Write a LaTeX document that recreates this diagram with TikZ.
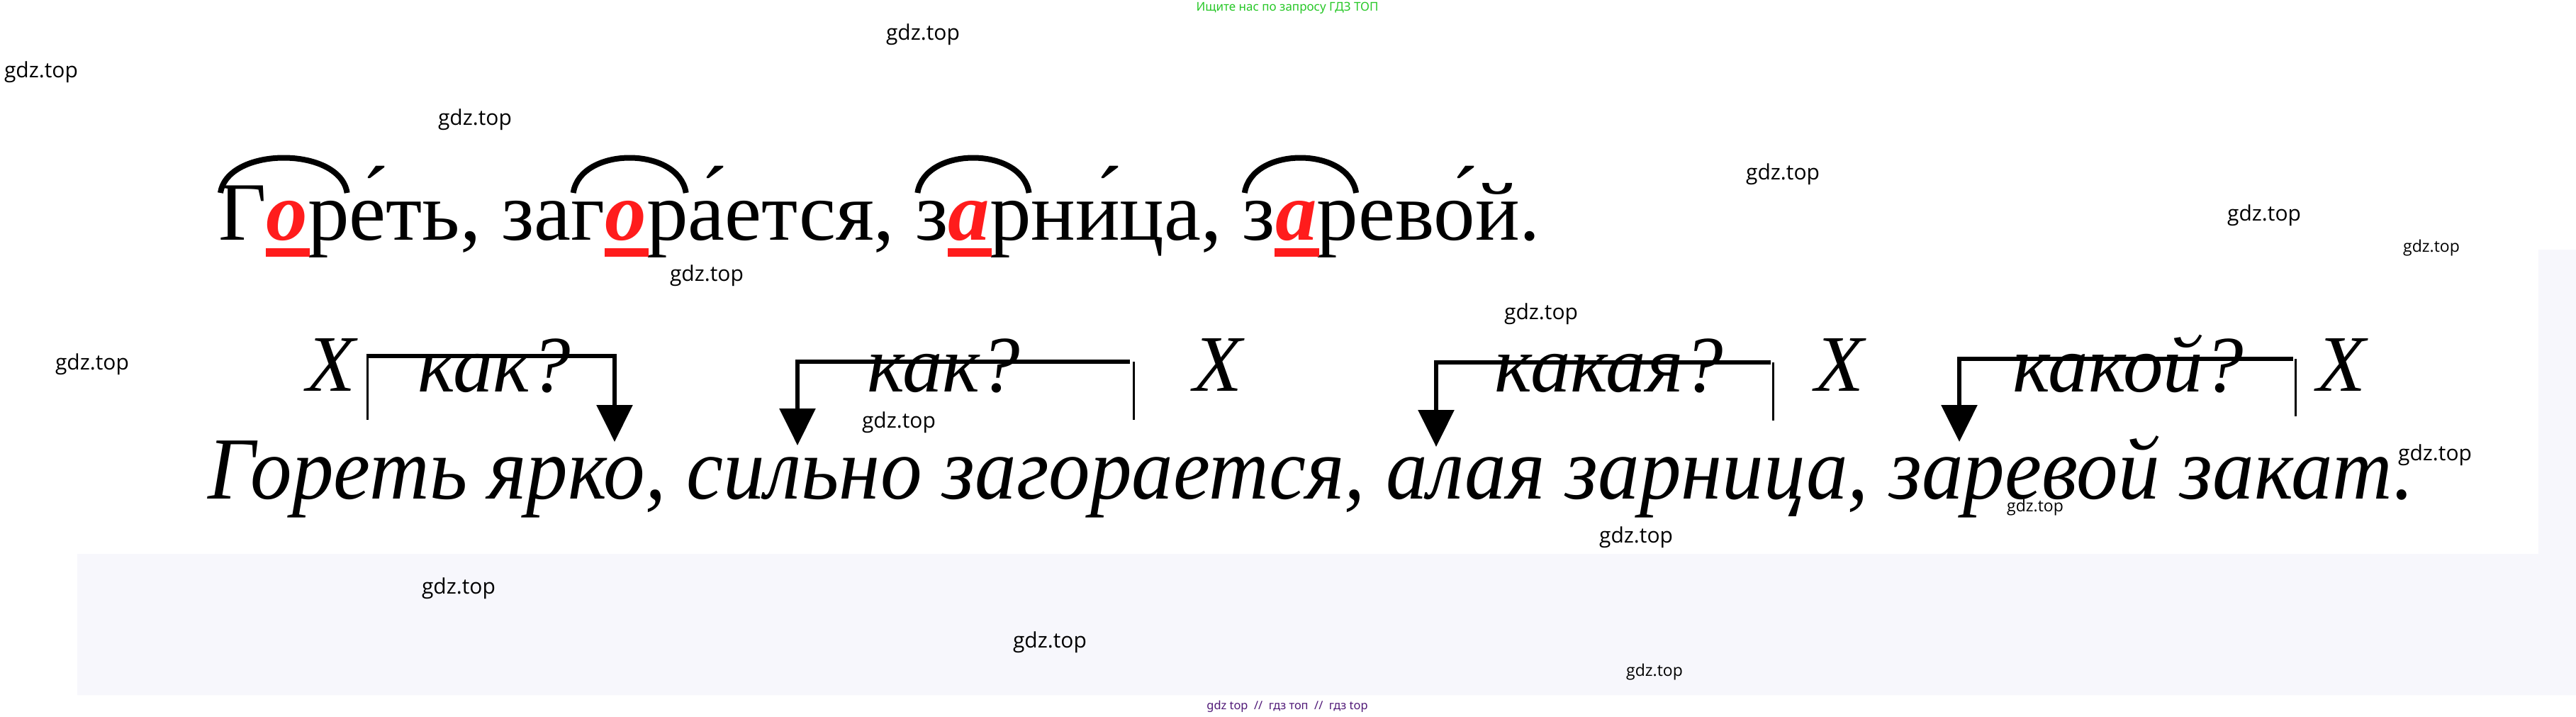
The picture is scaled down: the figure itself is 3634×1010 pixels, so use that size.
\documentclass[tikz,border=0pt]{standalone}
\usepackage{fontspec}
\setmainfont{Liberation Serif}
\newfontfamily\condit[FakeStretch=0.937]{Liberation Serif Italic}
\newfontfamily\wmfont{Open Sans}
\newfontfamily\gfont{Noto Sans}
\usetikzlibrary{arrows.meta,calc}
\definecolor{bgg}{RGB}{247,247,252}
\definecolor{rl}{RGB}{255,28,28}
\definecolor{grn}{RGB}{40,200,40}
\definecolor{pur}{RGB}{80,25,120}
\tikzset{
  w1/.style={inner sep=0pt,outer sep=0pt,anchor=base west,font=\fontsize{117}{122}\selectfont},
  red1/.style={w1,text=rl,font=\fontsize{117}{122}\selectfont\bfseries\itshape},
  rootarc/.style={line width=8pt},
  uline/.style={fill=rl},
  qtext/.style={inner sep=0pt,anchor=base,font=\fontsize{113}{118}\selectfont\itshape},
  thinln/.style={line width=3pt},
  arrln/.style={line width=6pt,line join=miter,-{Triangle[length=52pt,width=50pt]}},
  wm/.style={inner sep=0pt,font=\wmfont\fontsize{30}{33}\selectfont},
  wms/.style={inner sep=0pt,font=\wmfont\fontsize{23}{26}\selectfont},
}
\begin{document}
\begin{tikzpicture}[x=1pt,y=-1pt]
\useasboundingbox (0,0) rectangle (3634,1010);
\fill[white] (0,0) rectangle (3634,1010);
\fill[bgg] (109,781) -- (3581,781) -- (3581,352) -- (3634,352) -- (3634,980) -- (109,980) -- cycle;

% line 1
\node[w1] (p1) at (308,338) {Г};
\node[red1] (r1) at (p1.base east) {о};
\node[w1] (p3) at (r1.base east) {р};
\node[w1] (p4) at (p3.base east) {е́ть, за};
\node[w1] (p5) at (p4.base east) {г};
\node[red1] (r2) at (p5.base east) {о};
\node[w1] (p7) at (r2.base east) {р};
\node[w1] (p8) at (p7.base east) {а́ется,\ \null};
\node[w1] (p9) at (p8.base east) {з};
\node[red1] (r3) at (p9.base east) {а};
\node[w1] (p11) at (r3.base east) {р};
\node[w1] (p12) at (p11.base east) {ни́ца,\ \null};
\node[w1] (p13) at (p12.base east) {з};
\node[red1] (r4) at (p13.base east) {а};
\node[w1] (p15) at (r4.base east) {р};
\node[w1] (p16) at (p15.base east) {ево́й.};

\foreach \a/\b in {p1/p3,p5/p7,p9/p11,p13/p15}{
  \draw[rootarc] ($(\a.base west)+(3,-66)$) .. controls +(10,-66) and +(-10,-66) .. ($(\b.base east)+(-3,-66)$);
}
\foreach \r in {r1,r2,r3,r4}{
  \fill[uline] ($(\r.base west)+(-1,12)$) rectangle ($(\r.base east)+(3,24)$);
}

% line 2
\node[inner sep=0pt,anchor=base west,font=\condit\fontsize{125}{130}\selectfont] (l2) at (293,703) {Гореть ярко, сильно загорается, алая зарница, заревой закат.};

% schema
\node[qtext] (x1) at (467,551) {X};
\node[qtext] (q1) at (697,552) {как?};
\node[qtext] (q2) at (1331,552) {как?};
\node[qtext] (x2) at (1718,551) {X};
\node[qtext] (q3) at (2270,552) {какая?};
\node[qtext] (x3) at (2595,551) {X};
\node[qtext] (q4) at (3002,552) {какой?};
\node[qtext] (x4) at (3303,551) {X};

\coordinate (a1s) at (518,592); \coordinate (a1c) at (518,502); \coordinate (a1e) at (867,502); \coordinate (a1t) at (867,623);
\coordinate (a2s) at (1599,592); \coordinate (a2c) at (1599,510); \coordinate (a2e) at (1125,510); \coordinate (a2t) at (1125,628);
\coordinate (a3s) at (2501,593); \coordinate (a3c) at (2501,511); \coordinate (a3e) at (2026,511); \coordinate (a3t) at (2026,630);
\coordinate (a4s) at (3238,587); \coordinate (a4c) at (3238,506); \coordinate (a4e) at (2764,506); \coordinate (a4t) at (2764,623);

\draw[thinln] (a1s) -- (a1c);
\draw[arrln] ([xshift=-1.5pt]a1c) -- (a1e) -- (a1t);
\draw[thinln] (a2s) -- (a2c);
\draw[arrln] ([xshift=-5pt]a2c) -- (a2e) -- (a2t);
\draw[thinln] (a3s) -- (a3c);
\draw[arrln] ([xshift=-3pt]a3c) -- (a3e) -- (a3t);
\draw[thinln] (a4s) -- (a4c);
\draw[arrln] ([xshift=-3pt]a4c) -- (a4e) -- (a4t);

% watermarks
\foreach \x/\y [count=\i] in {1302/49,58/102,670/169,2515/246,3194/304,997/389,2174/443,130/514,1268/596,3435/642,2308/758,647/830,1481/906}{
  \node[wm] (wm\i) at (\x,\y) {gdz.top};
}
\foreach \x/\y [count=\i] in {3430/350,2871/716,2334/948}{
  \node[wms] (wms\i) at (\x,\y) {gdz.top};
}
\node[inner sep=0pt,text=grn,font=\gfont\fontsize{17}{19}\selectfont] (top) at (1816,11) {Ищите нас по запросу ГДЗ ТОП};
\node[inner sep=0pt,text=pur,font=\gfont\fontsize{16.4}{18}\selectfont] (bot) at (1816,996) {gdz top\ \ //\ \ гдз топ\ \ //\ \ гдз top};
\end{tikzpicture}
\end{document}
